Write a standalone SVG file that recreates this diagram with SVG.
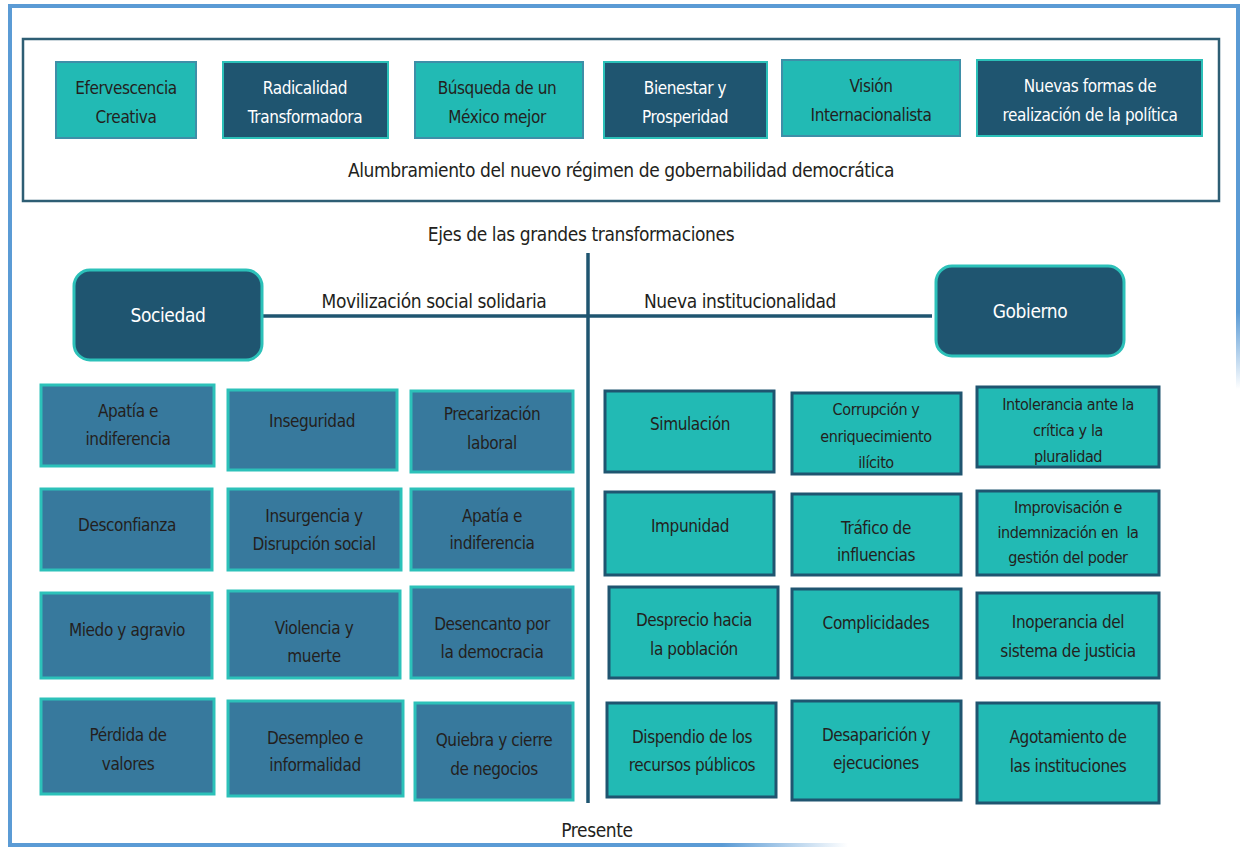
<svg xmlns="http://www.w3.org/2000/svg" width="1241" height="850" viewBox="0 0 1241 850">
<style>
text{font-family:"Liberation Sans Narrow","DejaVu Sans Condensed","Liberation Sans",sans-serif;font-stretch:condensed;text-anchor:middle;fill:#231F20;font-size:17px;letter-spacing:-0.4px}
.w{fill:#FFFFFF}
.s{font-size:16px}
.lab{font-size:19px}
.teal{fill:#22BAB4;stroke:#3E8FA8;stroke-width:2}
.dark{fill:#1F5570;stroke:#2BC0B8;stroke-width:2}
.blue{fill:#37799D;stroke:#2CC1B9;stroke-width:3}
.rt{fill:#22BAB4;stroke:#1F5570;stroke-width:3}
.head{fill:#1F5570;stroke:#2CC1B9;stroke-width:3}
.ln{stroke:#1F5570;stroke-width:3.5;fill:none}
</style>
<defs>
<linearGradient id="fadeV" x1="0" y1="0" x2="0" y2="1">
<stop offset="0" stop-color="#5B9BD5"/><stop offset="0.8" stop-color="#5B9BD5"/><stop offset="1" stop-color="#5B9BD5" stop-opacity="0"/>
</linearGradient>
<linearGradient id="fadeH" x1="0" y1="0" x2="1" y2="0">
<stop offset="0" stop-color="#5B9BD5"/><stop offset="0.85" stop-color="#5B9BD5"/><stop offset="1" stop-color="#5B9BD5" stop-opacity="0"/>
</linearGradient>
</defs>
<rect width="1241" height="850" fill="#FFFFFF"/>
<g id="frame">
<rect x="8" y="4" width="1231" height="4" fill="#5B9BD5"/>
<rect x="8" y="4" width="4" height="843" fill="#5B9BD5"/>
<rect x="1236" y="4" width="4" height="385" fill="url(#fadeV)"/>
<rect x="8" y="843" width="840" height="4" fill="url(#fadeH)"/>
</g>
<g id="topbox">
<rect x="23" y="39" width="1196" height="162" fill="none" stroke="#2E5E74" stroke-width="2.5"/>
<text x="621" y="177" class="lab">Alumbramiento del nuevo régimen de gobernabilidad democrática</text>
</g>
<g id="t1"><rect class="teal" x="56" y="62" width="140" height="76"/><text x="126" y="94">Efervescencia</text><text x="126" y="123">Creativa</text></g>
<g id="t2"><rect class="dark" x="223" y="62" width="165" height="76"/><text class="w" x="305" y="94">Radicalidad</text><text class="w" x="305" y="123">Transformadora</text></g>
<g id="t3"><rect class="teal" x="415" y="62" width="168" height="76"/><text x="497" y="94">Búsqueda de un</text><text x="497" y="123">México mejor</text></g>
<g id="t4"><rect class="dark" x="604" y="62" width="163" height="76"/><text class="w" x="685" y="94">Bienestar y</text><text class="w" x="685" y="123">Prosperidad</text></g>
<g id="t5"><rect class="teal" x="782" y="60" width="178" height="76"/><text x="871" y="92">Visión</text><text x="871" y="121">Internacionalista</text></g>
<g id="t6"><rect class="dark" x="977" y="60" width="225" height="76"/><text class="w" x="1090" y="92">Nuevas formas de</text><text class="w" x="1090" y="121">realización de la política</text></g>
<text x="581" y="241" class="lab">Ejes de las grandes transformaciones</text>
<g id="connectors">
<line class="ln" x1="588" y1="253" x2="588" y2="803"/>
<line class="ln" x1="262" y1="316" x2="932" y2="316"/>
</g>
<text x="434" y="308" class="lab">Movilización social solidaria</text>
<text x="740" y="308" class="lab">Nueva institucionalidad</text>
<g id="sociedad"><rect class="head" x="74" y="270" width="188" height="90" rx="16"/><text class="w lab" x="168" y="322">Sociedad</text></g>
<g id="gobierno"><rect class="head" x="936" y="266" width="188" height="90" rx="16"/><text class="w lab" x="1030" y="318">Gobierno</text></g>
<g id="l1"><rect class="blue" x="41" y="385" width="173" height="81"/><text x="128" y="417">Apatía e</text><text x="128" y="445">indiferencia</text></g>
<g id="l2"><rect class="blue" x="228" y="390" width="169" height="80"/><text x="312" y="427">Inseguridad</text></g>
<g id="l3"><rect class="blue" x="411" y="391" width="162" height="81"/><text x="492" y="420">Precarización</text><text x="492" y="449">laboral</text></g>
<g id="l4"><rect class="blue" x="41" y="489" width="171" height="81"/><text x="127" y="531">Desconfianza</text></g>
<g id="l5"><rect class="blue" x="228" y="489" width="173" height="81"/><text x="314" y="522">Insurgencia y</text><text x="314" y="550">Disrupción social</text></g>
<g id="l6"><rect class="blue" x="411" y="489" width="162" height="81"/><text x="492" y="522">Apatía e</text><text x="492" y="549">indiferencia</text></g>
<g id="l7"><rect class="blue" x="41" y="593" width="171" height="85"/><text x="127" y="636">Miedo y agravio</text></g>
<g id="l8"><rect class="blue" x="228" y="591" width="172" height="87"/><text x="314" y="634">Violencia y</text><text x="314" y="662">muerte</text></g>
<g id="l9"><rect class="blue" x="411" y="587" width="162" height="91"/><text x="492" y="630">Desencanto por</text><text x="492" y="658">la democracia</text></g>
<g id="l10"><rect class="blue" x="41" y="699" width="173" height="95"/><text x="128" y="741">Pérdida de</text><text x="128" y="770">valores</text></g>
<g id="l11"><rect class="blue" x="228" y="701" width="175" height="95"/><text x="315" y="744">Desempleo e</text><text x="315" y="771">informalidad</text></g>
<g id="l12"><rect class="blue" x="415" y="703" width="158" height="97"/><text x="494" y="746">Quiebra y cierre</text><text x="494" y="775">de negocios</text></g>
<g id="r1"><rect class="rt" x="605" y="391" width="169" height="81"/><text x="690" y="430">Simulación</text></g>
<g id="r2"><rect class="rt" x="792" y="393" width="169" height="81"/><text class="s" x="876" y="415">Corrupción y</text><text class="s" x="876" y="442">enriquecimiento</text><text class="s" x="876" y="468">ilícito</text></g>
<g id="r3"><rect class="rt" x="977" y="387" width="182" height="80"/><text class="s" x="1068" y="410">Intolerancia ante la</text><text class="s" x="1068" y="436">crítica y la</text><text class="s" x="1068" y="462">pluralidad</text></g>
<g id="r4"><rect class="rt" x="605" y="492" width="169" height="83"/><text x="690" y="532">Impunidad</text></g>
<g id="r5"><rect class="rt" x="792" y="494" width="169" height="81"/><text x="876" y="534">Tráfico de</text><text x="876" y="561">influencias</text></g>
<g id="r6"><rect class="rt" x="977" y="491" width="182" height="84"/><text class="s" x="1068" y="513">Improvisación e</text><text class="s" x="1068" y="538" xml:space="preserve">indemnización en  la</text><text class="s" x="1068" y="563">gestión del poder</text></g>
<g id="r7"><rect class="rt" x="609" y="587" width="169" height="91"/><text x="694" y="626">Desprecio hacia</text><text x="694" y="655">la población</text></g>
<g id="r8"><rect class="rt" x="792" y="589" width="169" height="89"/><text x="876" y="629">Complicidades</text></g>
<g id="r9"><rect class="rt" x="977" y="593" width="182" height="85"/><text x="1068" y="628">Inoperancia del</text><text x="1068" y="657">sistema de justicia</text></g>
<g id="r10"><rect class="rt" x="607" y="703" width="169" height="94"/><text x="692" y="743">Dispendio de los</text><text x="692" y="771">recursos públicos</text></g>
<g id="r11"><rect class="rt" x="792" y="701" width="169" height="99"/><text x="876" y="741">Desaparición y</text><text x="876" y="769">ejecuciones</text></g>
<g id="r12"><rect class="rt" x="977" y="703" width="182" height="100"/><text x="1068" y="743">Agotamiento de</text><text x="1068" y="772">las instituciones</text></g>
<text x="597" y="837" class="lab">Presente</text>
</svg>
